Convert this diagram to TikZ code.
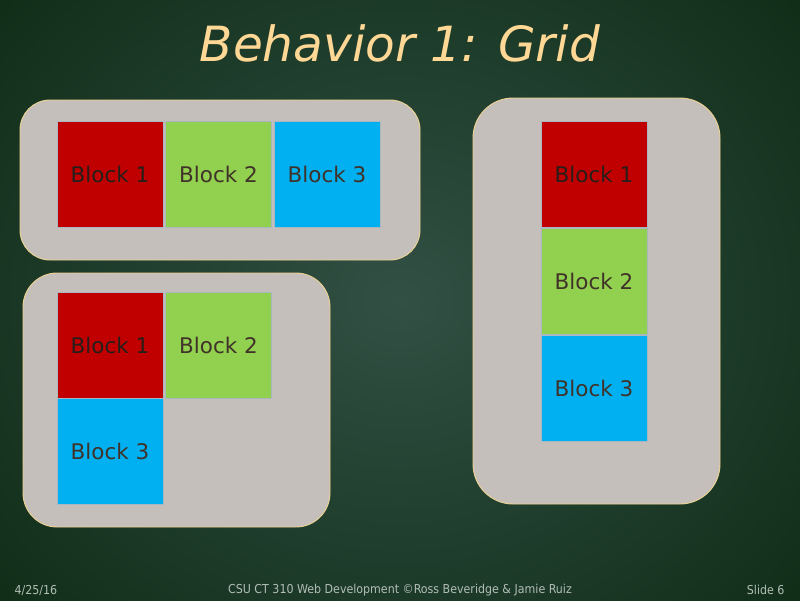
\documentclass[tikz,border=0pt]{standalone}
\usepackage{fontspec}
\setmainfont{DejaVu Sans}
\newfontfamily\condfont{DejaVu Sans Condensed}
\usetikzlibrary{shadings}
\definecolor{bgin}{RGB}{50,80,68}
\definecolor{bgout}{RGB}{16,46,24}
\definecolor{panel}{RGB}{196,191,186}
\definecolor{panelline}{RGB}{238,210,145}
\definecolor{bred}{RGB}{192,0,0}
\definecolor{bgreen}{RGB}{146,208,80}
\definecolor{bblue}{RGB}{0,176,240}
\definecolor{bedge}{RGB}{170,183,192}
\definecolor{btext}{RGB}{64,50,40}
\definecolor{btextdark}{RGB}{38,30,26}
\definecolor{titlecol}{RGB}{255,216,150}
\definecolor{foot}{RGB}{178,190,180}
\begin{document}
\begin{tikzpicture}[x=1pt,y=-1pt,
  panelbox/.style={fill=panel,draw=panelline,line width=0.9pt},
  blockbox/.style={draw=bedge,line width=0.8pt,minimum width=106pt,minimum height=106pt,inner sep=0pt,
    font=\fontsize{21.5}{24}\selectfont,text=btext},
  footnode/.style={font=\condfont\fontsize{12.3}{14}\selectfont,text=foot}]
\useasboundingbox (0,0) rectangle (800,600);
\begin{scope}
\clip (0,0) rectangle (800,600);
\shade[inner color=bgin,outer color=bgout] (-120,-160) rectangle (920,760);
\end{scope}
% title
\node[font=\fontsize{48.5}{52}\selectfont\itshape,text=titlecol] (title) at (400,43) {Behavior 1: Grid};
% panels
\draw[panelbox,rounded corners=30pt] (20,100) rectangle (420,260);
\draw[panelbox,rounded corners=34pt] (23,273) rectangle (330,527);
\draw[panelbox,rounded corners=40pt] (473,98) rectangle (720,504);
% row panel
\node[blockbox,fill=bred,text=btextdark] (r1) at (110,174) {Block 1};
\node[blockbox,fill=bgreen] (r2) at (218.5,174) {Block 2};
\node[blockbox,fill=bblue] (r3) at (327,174) {Block 3};
% grid panel
\node[blockbox,fill=bred,text=btextdark] (g1) at (110,345) {Block 1};
\node[blockbox,fill=bgreen] (g2) at (218.5,345) {Block 2};
\node[blockbox,fill=bblue] (g3) at (110,451.5) {Block 3};
% column panel
\node[blockbox,fill=bred,text=btextdark] (c1) at (594,174) {Block 1};
\node[blockbox,fill=bgreen] (c2) at (594,281) {Block 2};
\node[blockbox,fill=bblue] (c3) at (594,388.5) {Block 3};
% footer
\node[footnode,anchor=west] (date) at (11,590) {4/25/16};
\node[footnode] (credit) at (400,590) {CSU CT 310 Web Development ©Ross Beveridge \& Jamie Ruiz};
\node[footnode,anchor=east] (slide) at (788,590) {Slide 6};
\end{tikzpicture}
\end{document}
